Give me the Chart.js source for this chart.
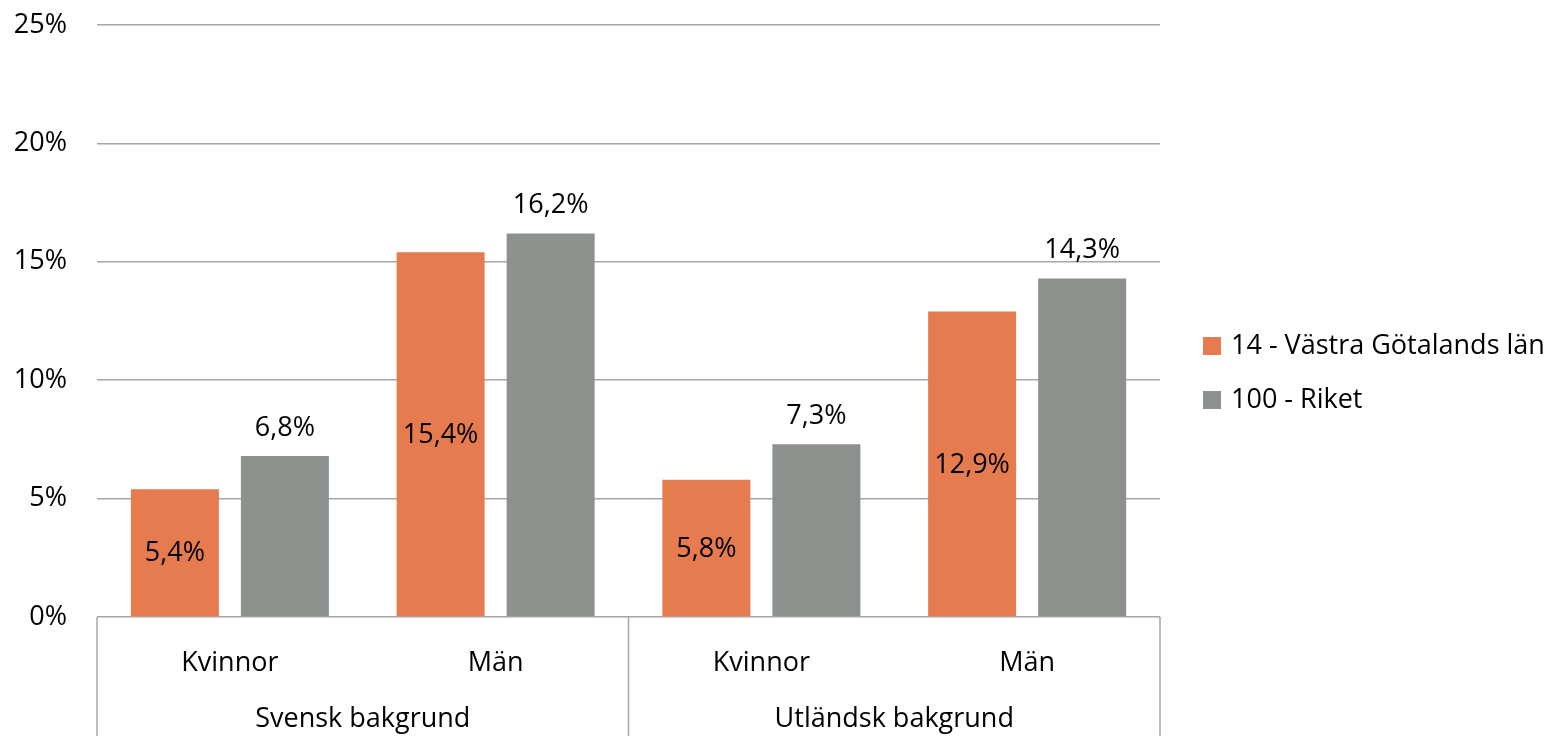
<!DOCTYPE html>
<html>
<head>
<meta charset="utf-8">
<script src="https://cdn.jsdelivr.net/npm/chart.js@4"></script>
<style>
  html, body { margin: 0; padding: 0; background: #fff; }
  #wrap { width: 1560px; height: 736px; position: relative; }
</style>
</head>
<body>
<div id="wrap"><canvas id="chart"></canvas></div>
<script>
// ── DATA ──
const categories = ['Kvinnor', 'Män', 'Kvinnor', 'Män'];
const groups     = ['Svensk bakgrund', 'Utländsk bakgrund'];
const seriesNames = ['14 - Västra Götalands län', '100 - Riket'];
const vastra = [5.4, 15.4, 5.8, 12.9];
const riket  = [6.8, 16.2, 7.3, 14.3];
const yTicks = [0, 5, 10, 15, 20, 25];

const ORANGE = '#E57B4F';
const GRAY   = '#8C918E';
const FONT   = '"Open Sans", Lato, sans-serif';
const FSIZE  = 27;

const fmt = v => v.toFixed(1).replace('.', ',') + '%';

// ── data labels + group axis + legend ──
const extras = {
  id: 'extras',
  afterDatasetsDraw(chart) {
    const c = chart.ctx;
    c.save();
    c.font = FSIZE + 'px ' + FONT;
    c.fillStyle = '#000';
    c.textAlign = 'center';
    c.textBaseline = 'middle';
    chart.data.datasets.forEach((ds, di) => {
      chart.getDatasetMeta(di).data.forEach((bar, i) => {
        const v = ds.data[i];
        if (di === 0) c.fillText(fmt(v), bar.x, (bar.y + bar.base) / 2 + 1);
        else c.fillText(fmt(v), bar.x, bar.y - 28);
      });
    });
    c.restore();
  },
  afterDraw(chart) {
    const c = chart.ctx;
    const x = chart.scales.x, y = chart.scales.y;
    const top = y.getPixelForValue(0);
    const bottom = chart.height;
    const step = x.getPixelForValue(1) - x.getPixelForValue(0);
    c.save();
    c.strokeStyle = '#a6a6a6';
    c.lineWidth = 1.5;
    const seps = [x.left, x.getPixelForValue(1) + step / 2, x.right];
    seps.forEach(px => {
      c.beginPath();
      c.moveTo(px, top);
      c.lineTo(px, bottom);
      c.stroke();
    });
    c.font = FSIZE + 'px ' + FONT;
    c.fillStyle = '#000';
    c.textAlign = 'center';
    c.textBaseline = 'middle';
    groups.forEach((g, gi) => {
      const cx = (seps[gi] + seps[gi + 1]) / 2;
      c.fillText(g, cx, 719);
    });
    // legend
    c.textAlign = 'left';
    [ORANGE, GRAY].forEach((col, i) => {
      const ly = 346 + i * 54;
      c.fillStyle = col;
      c.fillRect(1203, ly - 9, 18, 18);
      c.fillStyle = '#000';
      c.fillText(seriesNames[i], 1231, ly);
    });
    c.restore();
  }
};

new Chart(document.getElementById('chart'), {
  type: 'bar',
  data: {
    labels: categories,
    datasets: [
      { label: seriesNames[0], data: vastra, backgroundColor: ORANGE },
      { label: seriesNames[1], data: riket,  backgroundColor: GRAY }
    ]
  },
  options: {
    responsive: true,
    maintainAspectRatio: false,
    animation: false,
    devicePixelRatio: 1,
    categoryPercentage: 0.828,
    barPercentage: 0.8,
    layout: { padding: { top: 25, right: 400, left: 0, bottom: 0 } },
    plugins: {
      legend: { display: false },
      tooltip: { enabled: false }
    },
    scales: {
      x: {
        grid: { display: false },
        border: { display: false },
        ticks: { color: '#000', font: { family: FONT, size: FSIZE }, padding: 22 },
        afterFit: s => { s.height = 119; }
      },
      y: {
        min: 0, max: 25,
        afterBuildTicks: s => { s.ticks = yTicks.map(v => ({ value: v })); },
        grid: { color: '#a6a6a6', lineWidth: 1.5, tickLength: 30, tickColor: 'rgba(0,0,0,0)' },
        border: { display: false },
        ticks: {
          color: '#000',
          font: { family: FONT, size: FSIZE },
          padding: 0,
          callback: v => v + '%'
        },
        afterFit: s => { s.width = 97; }
      }
    }
  },
  plugins: [extras]
});
</script>
</body>
</html>
